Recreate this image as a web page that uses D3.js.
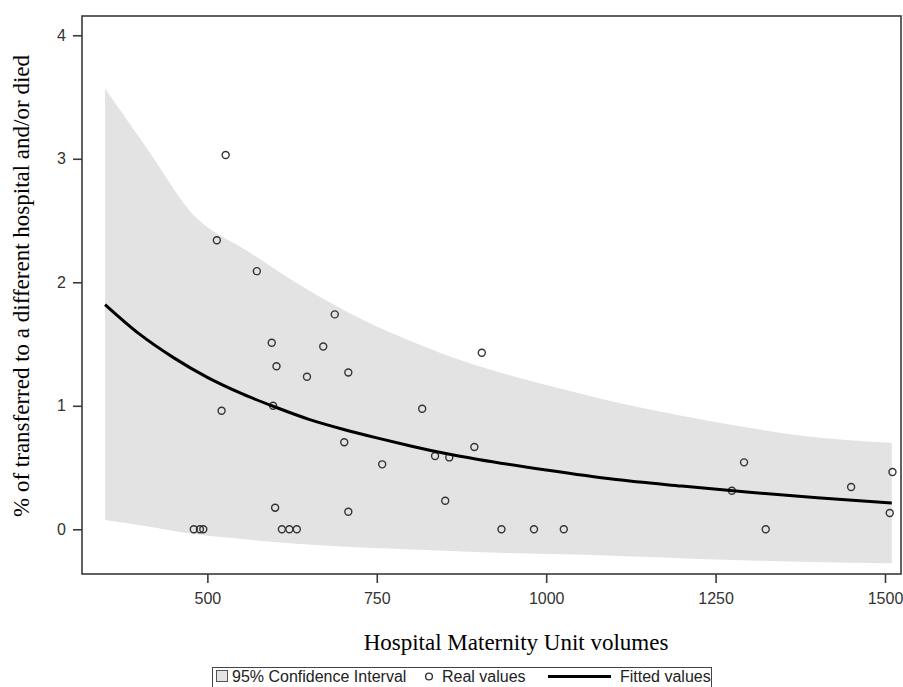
<!DOCTYPE html>
<html>
<head>
<meta charset="utf-8">
<script src="https://cdn.jsdelivr.net/npm/d3@7"></script>
<style>
  body { margin: 0; background: #fff; }
  svg { display: block; }
</style>
</head>
<body>
<div id="chart"></div>
<script>
// observed hospitals: volume vs % transferred and/or died
const volumes = [480, 489, 494, 514, 521, 527, 573, 595, 597, 600, 602, 610, 621, 632,
  647, 671, 688, 702, 708, 708, 758, 817, 836, 851, 857, 894, 905, 934, 982, 1026,
  1274, 1292, 1324, 1450, 1507, 1511];
const rates = [0, 0, 0, 2.34, 0.96, 3.03, 2.09, 1.51, 1.0, 0.175, 1.32, 0, 0, 0,
  1.235, 1.48, 1.74, 0.705, 1.27, 0.142, 0.526, 0.976, 0.593, 0.231, 0.582, 0.666, 1.43, 0, 0, 0,
  0.312, 0.542, 0, 0.342, 0.132, 0.464];

// fitted curve
const fitX = [349, 400, 450, 500, 550, 600, 650, 700, 750, 800, 850, 900, 1000, 1100, 1200, 1300, 1400, 1510];
const fitY = [1.82, 1.58, 1.39, 1.23, 1.10, 0.99, 0.89, 0.81, 0.74, 0.675, 0.615, 0.565, 0.48, 0.405, 0.35, 0.30, 0.255, 0.212];

// 95% confidence band
const ciX = [349, 415, 474, 563, 636, 710, 784, 858, 932, 1006, 1079, 1153, 1227, 1301, 1375, 1448, 1510];
const ciUpper = [3.57, 3.05, 2.58, 2.24, 1.98, 1.75, 1.56, 1.40, 1.27, 1.16, 1.06, 0.97, 0.89, 0.82, 0.76, 0.72, 0.70];
const ciLower = [0.075, 0.02, -0.035, -0.085, -0.12, -0.143, -0.16, -0.176, -0.19, -0.20, -0.21, -0.225, -0.24, -0.252, -0.262, -0.27, -0.275];

const xTicks = [500, 750, 1000, 1250, 1500];
const yTicks = [0, 1, 2, 3, 4];

const W = 903, H = 687;
const plotL = 82, plotR = 901, plotT = 16, plotB = 574;

const svg = d3.select('#chart')
  .append('svg')
  .attr('width', W)
  .attr('height', H);

const x = d3.scaleLinear().domain([315, 1523.6]).range([plotL, plotR]);
const y = d3.scaleLinear().domain([-0.362, 4.156]).range([plotB, plotT]);

// band
const band = ciX.map((v, i) => ({ x: v, lo: ciLower[i], hi: ciUpper[i] }));
svg.append('path')
  .datum(band)
  .attr('fill', '#e3e3e3')
  .attr('d', d3.area()
    .x(d => x(d.x))
    .y0(d => y(d.lo))
    .y1(d => y(d.hi))
    .curve(d3.curveMonotoneX));

// points
svg.append('g')
  .selectAll('circle')
  .data(volumes)
  .enter().append('circle')
    .attr('cx', d => x(d))
    .attr('cy', (d, i) => y(rates[i]))
    .attr('r', 3.5)
    .attr('fill', 'none')
    .attr('stroke', '#333')
    .attr('stroke-width', 1.4);

// fitted line
svg.append('path')
  .datum(fitX.map((v, i) => [v, fitY[i]]))
  .attr('fill', 'none')
  .attr('stroke', '#000')
  .attr('stroke-width', 3)
  .attr('d', d3.line()
    .x(d => x(d[0]))
    .y(d => y(d[1]))
    .curve(d3.curveMonotoneX));

// frame
svg.append('rect')
  .attr('x', plotL)
  .attr('y', plotT)
  .attr('width', plotR - plotL)
  .attr('height', plotB - plotT)
  .attr('fill', 'none')
  .attr('stroke', '#3a3a3a')
  .attr('stroke-width', 1.6);

// axes
const xAxis = svg.append('g')
  .attr('transform', `translate(0,${plotB})`)
  .call(d3.axisBottom(x).tickValues(xTicks).tickSize(9).tickPadding(10).tickFormat(d3.format('d')));
const yAxis = svg.append('g')
  .attr('transform', `translate(${plotL},0)`)
  .call(d3.axisLeft(y).tickValues(yTicks).tickSize(9).tickPadding(7).tickFormat(d3.format('d')));

[xAxis, yAxis].forEach(g => {
  g.select('.domain').remove();
  g.selectAll('line').attr('stroke', '#3a3a3a').attr('stroke-width', 1.6);
  g.selectAll('text')
    .attr('fill', '#333')
    .style('font-family', 'Liberation Sans, Arial, sans-serif')
    .style('font-size', '16px');
});

// titles
svg.append('text')
  .attr('x', 516)
  .attr('y', 650)
  .attr('text-anchor', 'middle')
  .style('font-family', 'Liberation Serif, Times New Roman, serif')
  .style('font-size', '23px')
  .text('Hospital Maternity Unit volumes');

svg.append('text')
  .attr('transform', 'translate(29,286) rotate(-90)')
  .attr('text-anchor', 'middle')
  .style('font-family', 'Liberation Serif, Times New Roman, serif')
  .style('font-size', '23px')
  .text('% of transferred to a different hospital and/or died');

// legend
const lg = svg.append('g').style('font-family', 'Liberation Sans, Arial, sans-serif').style('font-size', '16px');
lg.append('rect')
  .attr('x', 212.5).attr('y', 667.5).attr('width', 499).attr('height', 30)
  .attr('fill', '#fff').attr('stroke', '#444').attr('stroke-width', 1);
lg.append('rect')
  .attr('x', 216.5).attr('y', 670.5).attr('width', 11).attr('height', 11)
  .attr('fill', '#e3e3e3').attr('stroke', '#555').attr('stroke-width', 1);
lg.append('text').attr('x', 232).attr('y', 682).attr('fill', '#222').text('95% Confidence Interval');
lg.append('circle')
  .attr('cx', 429).attr('cy', 676.5).attr('r', 3.4)
  .attr('fill', 'none').attr('stroke', '#333').attr('stroke-width', 1.4);
lg.append('text').attr('x', 442).attr('y', 682).attr('fill', '#222').text('Real values');
lg.append('line')
  .attr('x1', 548).attr('x2', 611).attr('y1', 676.5).attr('y2', 676.5)
  .attr('stroke', '#000').attr('stroke-width', 3);
lg.append('text').attr('x', 620).attr('y', 682).attr('fill', '#222').text('Fitted values');
</script>
</body>
</html>
